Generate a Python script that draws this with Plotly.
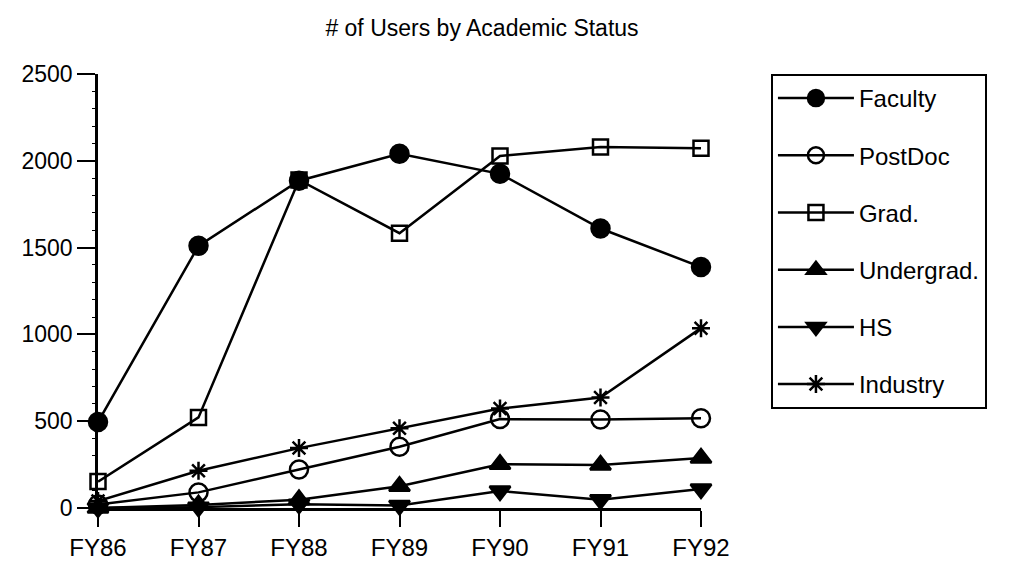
import plotly.graph_objects as go

# données
years = ['FY86', 'FY87', 'FY88', 'FY89', 'FY90', 'FY91', 'FY92']
faculty = [495, 1510, 1885, 2040, 1925, 1610, 1388]
postdoc = [20, 90, 222, 353, 512, 510, 517]
grad = [152, 522, 1890, 1583, 2028, 2080, 2073]
undergrad = [0, 18, 48, 125, 252, 247, 288]
hs = [0, 5, 22, 15, 98, 48, 110]
industry = [40, 215, 345, 460, 573, 637, 1036]

series = [
    ('Faculty', faculty, 'circle', 18),
    ('PostDoc', postdoc, 'circle-open', 18),
    ('Grad.', grad, 'square-open', 15),
    ('Undergrad.', undergrad, 'triangle-up', 18),
    ('HS', hs, 'triangle-down', 18),
    ('Industry', industry, 'asterisk-open', 15),
]

font_family = 'Liberation Sans, Arial, sans-serif'

fig = go.Figure()
for name, vals, symbol, size in series:
    fig.add_trace(go.Scatter(
        x=years, y=vals, name=name, mode='lines+markers',
        legendgroup=name,
        line=dict(color='black', width=2.5),
        marker=dict(symbol=symbol, size=size, color='black',
                    line=dict(color='black', width=2.5)),
        cliponaxis=False,
    ))

fig.update_layout(
    width=1010, height=565,
    paper_bgcolor='white', plot_bgcolor='white',
    margin=dict(l=90, r=317, t=66, b=51),
    font=dict(family=font_family, color='black'),
    title=dict(text='# of Users by Academic Status', x=474 / 1010, xanchor='center',
               y=1 - 20 / 565, yanchor='middle', font=dict(size=23, color='black')),
    showlegend=True,
    legend=dict(
        x=1.116, xanchor='left', y=1.0, yanchor='top',
        bordercolor='black', borderwidth=2, bgcolor='white',
        font=dict(size=24, color='black'),
        tracegroupgap=23, itemwidth=76,
    ),
)

fig.update_xaxes(
    type='category', range=[0, 6],
    showline=True, linecolor='black', linewidth=2.5,
    ticks='outside', ticklen=16, tickwidth=2, tickcolor='black',
    showgrid=False, zeroline=False,
    tickfont=dict(size=24, color='black'),
)
fig.update_yaxes(
    range=[0, 2500], tickvals=[0, 500, 1000, 1500, 2000, 2500],
    showline=True, linecolor='black', linewidth=2.5,
    ticks='outside', ticklen=18, tickwidth=2, tickcolor='black',
    minor=dict(dtick=100, ticks='outside', ticklen=3, tickcolor='black', tickwidth=1),
    showgrid=False, zeroline=False,
    tickfont=dict(size=23, color='black'),
)

fig.write_html('out.html')
